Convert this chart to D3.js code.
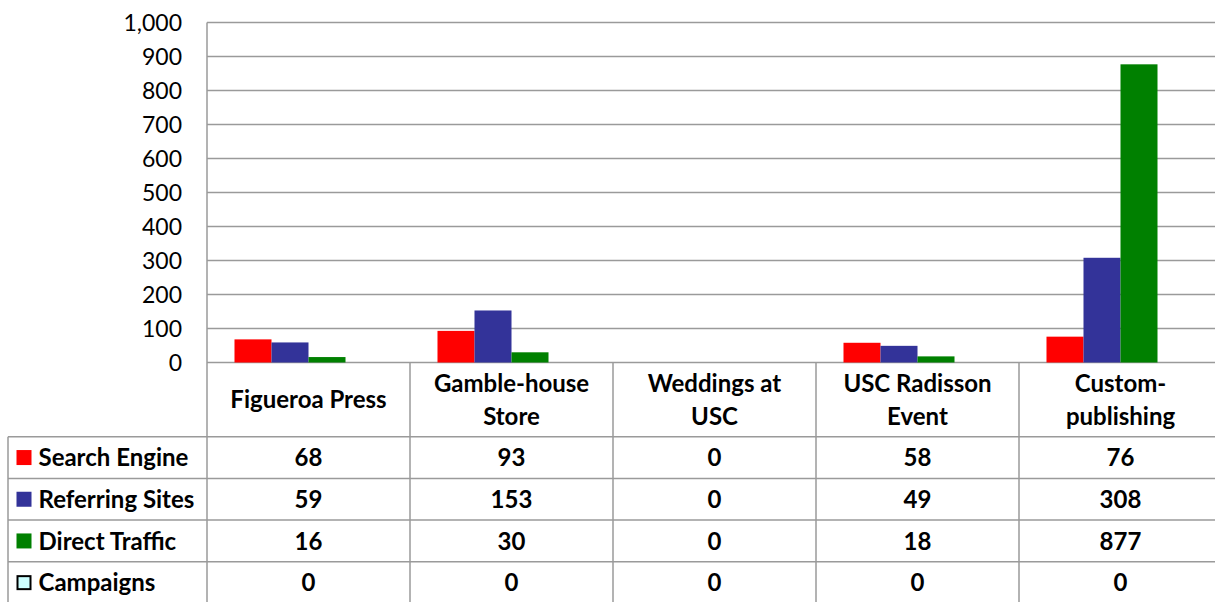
<!DOCTYPE html>
<html><head><meta charset="utf-8">
<script src="https://cdn.jsdelivr.net/npm/d3@7"></script>
<style>body{margin:0;background:#fff}svg{display:block}text{font-family:Lato,"Open Sans",sans-serif;fill:#000}</style>
</head><body>
<svg id="c" width="1215" height="602"></svg>
<script>
const categories = ["Figueroa Press", "Gamble-house Store", "Weddings at USC", "USC Radisson Event", "Custom-publishing"];
const categoryLines = [["Figueroa Press"], ["Gamble-house", "Store"], ["Weddings at", "USC"], ["USC Radisson", "Event"], ["Custom-", "publishing"]];
const seriesNames = ["Search Engine", "Referring Sites", "Direct Traffic", "Campaigns"];
const seriesColors = ["#ff0000", "#333399", "#008000", "#ccffff"];
const searchEngine = [68, 93, 0, 58, 76];
const referringSites = [59, 153, 0, 49, 308];
const directTraffic = [16, 30, 0, 18, 877];
const campaigns = [0, 0, 0, 0, 0];
const yTicks = [0, 100, 200, 300, 400, 500, 600, 700, 800, 900, 1000];

const seriesValues = [searchEngine, referringSites, directTraffic, campaigns];
const svg = d3.select("#c");
const plotLeft = 207, plotRight = 1222, plotTop = 22.5, plotBase = 362.5;
const tableLeft = 8;
const headerBottom = 436.7, rowH = 41.7;
const gridColor = "#9a9a9a";
const tableFont = 24;

const x0 = d3.scaleBand().domain(categories).range([plotLeft, plotRight]).padding(0);
const x1 = d3.scaleBand().domain(seriesNames).range([0, x0.bandwidth()]).paddingInner(0).paddingOuter(0.743);
const y = d3.scaleLinear().domain([0, 1000]).range([plotBase, plotTop]);

// gridlines
svg.append("g").selectAll("line").data(yTicks).join("line")
  .attr("x1", plotLeft).attr("x2", 1215).attr("y1", d => y(d)).attr("y2", d => y(d))
  .attr("stroke", gridColor).attr("stroke-width", 1.5);

// y labels
svg.append("g").selectAll("text").data(yTicks).join("text")
  .attr("x", 182).attr("y", d => y(d)).attr("dy", "0.36em").attr("text-anchor", "end")
  .attr("font-size", 23).text(d => d3.format(",")(d));

// bars
seriesNames.forEach((s, si) => {
  svg.append("g").selectAll("rect").data(categories).join("rect")
    .attr("x", c => x0(c) + x1(s)).attr("width", x1.bandwidth())
    .attr("y", (c, i) => y(seriesValues[si][i]))
    .attr("height", (c, i) => plotBase - y(seriesValues[si][i]))
    .attr("fill", seriesColors[si]);
});

// table lines
const tg = svg.append("g").attr("stroke", gridColor).attr("stroke-width", 1.5);
tg.append("line").attr("x1", plotLeft).attr("x2", plotLeft).attr("y1", plotTop).attr("y2", 602);
categories.forEach(c => {
  tg.append("line").attr("x1", x0(c) + x0.bandwidth()).attr("x2", x0(c) + x0.bandwidth()).attr("y1", plotBase).attr("y2", 602);
});
tg.append("line").attr("x1", tableLeft).attr("x2", tableLeft).attr("y1", headerBottom).attr("y2", 602);
for (let r = 0; r < 4; r++) {
  tg.append("line").attr("x1", tableLeft).attr("x2", 1215).attr("y1", headerBottom + r * rowH).attr("y2", headerBottom + r * rowH);
}

// header labels
categories.forEach((c, i) => {
  const lines = categoryLines[i];
  const cy = (plotBase + headerBottom) / 2;
  const lh = 33;
  lines.forEach((t, li) => {
    svg.append("text").attr("x", x0(c) + x0.bandwidth() / 2)
      .attr("y", cy + (li - (lines.length - 1) / 2) * lh).attr("dy", "0.36em")
      .attr("text-anchor", "middle").attr("font-size", tableFont).attr("font-weight", "bold").text(t);
  });
});

// rows
seriesNames.forEach((s, si) => {
  const cy = headerBottom + si * rowH + rowH / 2;
  const sw = svg.append("rect").attr("x", 16.5).attr("y", cy - 7.5).attr("width", 15).attr("height", 15)
    .attr("fill", seriesColors[si]);
  if (si === 3) sw.attr("stroke", "#000").attr("stroke-width", 2).attr("x", 17.5).attr("y", cy - 6.5).attr("width", 13).attr("height", 13);
  svg.append("text").attr("x", 38.5).attr("y", cy).attr("dy", "0.36em")
    .attr("font-size", tableFont).attr("font-weight", "bold").text(s);
  categories.forEach((c, i) => {
    svg.append("text").attr("x", x0(c) + x0.bandwidth() / 2).attr("y", cy).attr("dy", "0.36em")
      .attr("text-anchor", "middle").attr("font-size", tableFont).attr("font-weight", "bold").text(seriesValues[si][i]);
  });
});
</script>
</body></html>
